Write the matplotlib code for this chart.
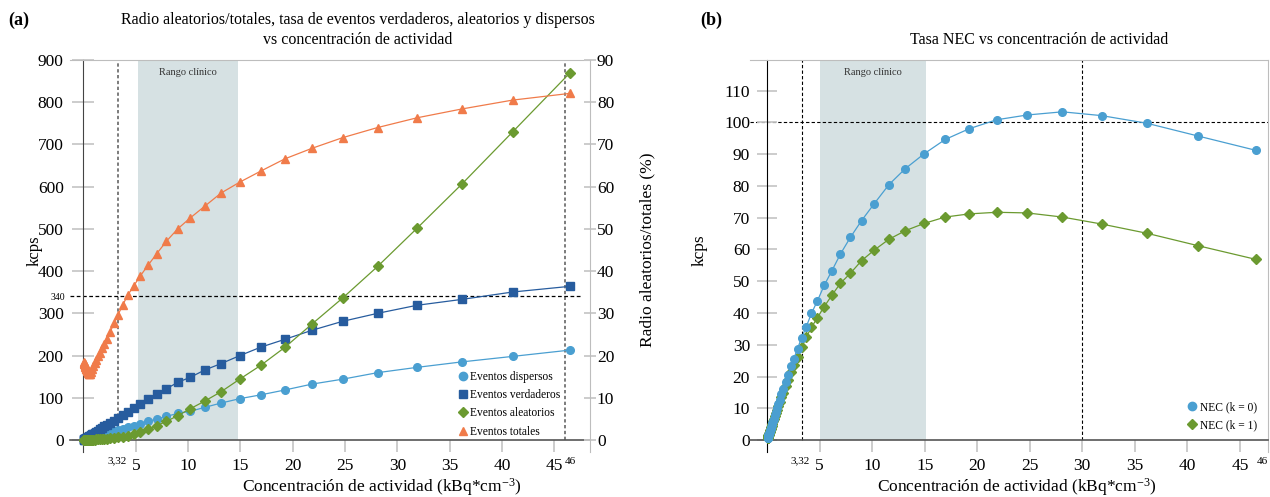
import matplotlib.pyplot as plt
from matplotlib.lines import Line2D

plt.rcParams['font.family'] = ['Liberation Serif', 'DejaVu Serif']
plt.rcParams['mathtext.fontset'] = 'custom'
plt.rcParams['mathtext.rm'] = 'Liberation Serif'
plt.rcParams['mathtext.it'] = 'Liberation Serif:italic'

# concentracion de actividad (kBq/cm3), comun a todas las series
conc = [0.06, 0.07, 0.08, 0.09, 0.10, 0.11, 0.125, 0.14, 0.16, 0.18,
        0.21, 0.24, 0.27, 0.30, 0.34, 0.39, 0.44, 0.50, 0.57, 0.64,
        0.73, 0.83, 0.94, 1.07, 1.21, 1.37, 1.55, 1.76, 1.99, 2.26,
        2.56, 2.90, 3.29, 3.73, 4.23, 4.80, 5.44, 6.17, 6.99, 7.93,
        9.00, 10.2, 11.6, 13.15, 14.95, 16.95, 19.25, 21.85, 24.75, 28.1,
        31.85, 36.15, 41.0, 46.5]

# tasas en kcps
verdaderos = [1.0, 1.1, 1.3, 1.5, 1.6, 1.8, 2.0, 2.3, 2.6, 2.9,
              3.4, 3.9, 4.4, 4.9, 5.6, 6.4, 7.2, 8.2, 9.3, 10.5,
              11.9, 13.5, 15.3, 17.4, 19.7, 22.3, 25.2, 28.5, 32.2, 36.5,
              41.0, 46.0, 53.0, 59.5, 66.0, 75.0, 85.0, 97.0, 109.0, 121.5,
              136.5, 148.5, 166.0, 181.0, 200.0, 220.0, 238.5, 260.0, 281.0, 300.0,
              319.0, 333.0, 350.5, 364.0]
dispersos = [0.45, 0.5, 0.6, 0.65, 0.7, 0.8, 0.9, 1.0, 1.15, 1.3,
             1.5, 1.7, 1.9, 2.1, 2.4, 2.8, 3.1, 3.6, 4.0, 4.6,
             5.2, 5.9, 6.7, 7.6, 8.6, 9.7, 11.0, 12.5, 14.1, 16.0,
             18.1, 20.5, 23.3, 26.4, 30.0, 34.0, 38.6, 44.0, 49.7, 56.0,
             63.0, 68.0, 77.4, 87.6, 98.0, 107.0, 118.5, 132.5, 144.0, 159.5,
             172.0, 185.0, 198.0, 213.0]
aleatorios = [0.05, 0.05, 0.05, 0.06, 0.06, 0.07, 0.08, 0.09, 0.1, 0.11,
              0.13, 0.15, 0.17, 0.2, 0.23, 0.27, 0.32, 0.38, 0.45, 0.53,
              0.63, 0.75, 0.9, 1.05, 1.25, 1.5, 1.8, 2.15, 2.6, 3.1,
              3.8, 4.7, 6.0, 7.8, 10.3, 14.0, 19.5, 26.0, 34.0, 44.2,
              57.6, 74.0, 92.4, 114.4, 144.5, 177.0, 219.6, 275.0, 336.0, 411.0,
              501.0, 606.0, 729.5, 870.0]
# radio aleatorios/totales (%)
radio = [18.4, 18.3, 18.2, 18.1, 18.0, 17.9, 17.8, 17.7, 17.5, 17.3,
         17.1, 16.9, 16.7, 16.5, 16.3, 16.1, 15.9, 15.7, 15.6, 15.7,
         16.2, 16.9, 17.6, 18.3, 19.0, 19.8, 20.7, 21.7, 22.8, 24.0,
         25.6, 27.6, 29.6, 31.9, 34.3, 36.5, 38.9, 41.4, 44.1, 47.1,
         50.0, 52.6, 55.4, 58.5, 61.1, 63.7, 66.6, 69.1, 71.6, 74.0,
         76.3, 78.4, 80.5, 82.1]
# NEC (kcps)
nec_k0 = [0.65, 0.75, 0.85, 1.0, 1.1, 1.2, 1.35, 1.5, 1.7, 1.9,
          2.3, 2.6, 2.9, 3.2, 3.6, 4.2, 4.7, 5.3, 6.1, 6.8,
          7.8, 8.8, 10.0, 11.3, 12.8, 14.4, 16.2, 18.3, 20.6, 23.4,
          25.7, 28.8, 32.2, 35.7, 39.9, 43.9, 48.7, 53.3, 58.6, 63.8,
          69.1, 74.4, 80.4, 85.4, 90.1, 94.6, 98.0, 100.8, 102.3, 103.3,
          102.1, 99.7, 95.7, 91.2]
nec_k1 = [0.65, 0.75, 0.85, 0.95, 1.05, 1.15, 1.3, 1.5, 1.7, 1.9,
          2.2, 2.5, 2.8, 3.1, 3.5, 4.1, 4.6, 5.2, 5.9, 6.6,
          7.5, 8.5, 9.6, 10.8, 12.1, 13.5, 15.0, 17.1, 19.0, 21.5,
          23.6, 26.1, 29.2, 32.4, 35.5, 38.6, 42.0, 45.6, 49.4, 52.5,
          56.5, 59.8, 63.2, 65.9, 68.2, 70.2, 71.2, 71.7, 71.5, 70.2,
          68.0, 65.1, 61.2, 56.9]

xticks = [5, 10, 15, 20, 25, 30, 35, 40, 45]
yticks_a = list(range(0, 901, 100))
yticks_a2 = list(range(0, 91, 10))
yticks_b = list(range(0, 111, 10))

conc_ref = 3.32
conc_max = 46
kcps_ref = 340
nec_ref = 100
conc_nec_pico = 30
clinico_a = (5.2, 14.75)
clinico_b = (5.0, 15.1)

c_disp = '#4a9fd1'
c_verd = '#275c9e'
c_alea = '#6b9a30'
c_tot = '#f07b4a'
c_sombra = '#d6e1e3'
c_tick = '#c8c8c8'

W, H = 1270, 497


def estilo(ax, color_eje):
    ax.spines['top'].set_color('#bdbdbd')
    ax.spines['right'].set_color('#bdbdbd')
    ax.spines['left'].set_position(('data', 0))
    ax.spines['left'].set_color(color_eje)
    ax.spines['bottom'].set_position(('data', 0))
    ax.spines['bottom'].set_color('#555555')
    ax.spines['bottom'].set_linewidth(1.2)
    ax.set_xticks(xticks)
    ax.tick_params(axis='x', direction='out', length=8.6, width=1.3, color=c_tick,
                   labelsize=12.5, pad=4)
    ax.tick_params(axis='y', direction='inout', length=15.5, width=1.3, color=c_tick,
                   labelsize=12.5, pad=6.5)


fig = plt.figure(figsize=(W / 100, H / 100), dpi=100)

# ---------- (a) ----------
ax = fig.add_axes([70 / W, 45 / H, 520 / W, 392 / H])
ax.set_xlim(-1.29, 48.4)
ax.set_ylim(-28.4, 900)
estilo(ax, '#444444')
ax.spines['right'].set_visible(False)
ax.set_yticks(yticks_a)

ymin_frac = (0 - ax.get_ylim()[0]) / (ax.get_ylim()[1] - ax.get_ylim()[0])
ax.axvspan(clinico_a[0], clinico_a[1], ymin=ymin_frac, ymax=1, color=c_sombra, lw=0, zorder=0)
ax.text(sum(clinico_a) / 2, 880, 'Rango clínico', fontsize=7.5, ha='center', va='top', color='#333333')
ax.vlines([conc_ref, conc_max], 0, 900, colors='#666666', linestyles=(0, (2, 1.5)), lw=1.2, zorder=1)
ax.axhline(kcps_ref, xmin=0, xmax=0.985, color='black', ls=(0, (3, 2)), lw=0.9, zorder=1)

ax.plot(conc, dispersos, '-o', color=c_disp, ms=5.5, lw=0.9, zorder=3)
ax.plot(conc, verdaderos, '-s', color=c_verd, ms=5.5, lw=0.9, zorder=3)
ax.plot(conc, aleatorios, '-D', color=c_alea, ms=5, lw=0.9, zorder=3)

ax2 = ax.twinx()
ax2.set_ylim(-2.84, 90)
ax2.set_yticks(yticks_a2)
for s in ['left', 'top', 'bottom']:
    ax2.spines[s].set_visible(False)
ax2.spines['right'].set_color('#bdbdbd')
ax2.tick_params(axis='y', direction='inout', length=8, width=1.3, color=c_tick,
                labelsize=12.5, pad=1)
ax2.plot(conc, radio, '-^', color=c_tot, ms=6, lw=0.9, zorder=3)

handles = [Line2D([], [], marker='o', ls='None', color=c_disp, ms=6),
           Line2D([], [], marker='s', ls='None', color=c_verd, ms=6),
           Line2D([], [], marker='D', ls='None', color=c_alea, ms=5),
           Line2D([], [], marker='^', ls='None', color=c_tot, ms=6)]
labels = ['Eventos dispersos', 'Eventos verdaderos', 'Eventos aleatorios', 'Eventos totales']
ax2.legend(handles, labels, loc='upper left', bbox_to_anchor=(0.738, 0.222), frameon=False,
           fontsize=8.3, handlelength=0.6, handletextpad=0.35, labelspacing=0.55, borderpad=0)

fig.text(58 / W, 1 - 297 / H, str(kcps_ref), fontsize=7, ha='center', va='center')
fig.text(117 / W, 1 - 461 / H, '3,32', fontsize=8, ha='center', va='center')
fig.text(570 / W, 1 - 461 / H, str(conc_max), fontsize=8, ha='center', va='center')

fig.text(8 / W, 1 - 20 / H, '(a)', fontsize=13, fontweight='bold', va='center')
fig.text(358 / W, 1 - 20 / H, 'Radio aleatorios/totales, tasa de eventos verdaderos, aleatorios y dispersos',
         fontsize=11.5, ha='center', va='center')
fig.text(358 / W, 1 - 40 / H, 'vs concentración de actividad', fontsize=11.5, ha='center', va='center')
fig.text(35 / W, 1 - 251 / H, 'kcps', fontsize=12, rotation=90, ha='center', va='center')
fig.text(647 / W, 1 - 250 / H, 'Radio aleatorios/totales (%)', fontsize=12.5, rotation=90,
         ha='center', va='center')
fig.text(382 / W, 1 - 487 / H, r'Concentración de actividad (kBq*cm$^{-3}$)', fontsize=12.5,
         ha='center', va='center')

# ---------- (b) ----------
bx = fig.add_axes([750 / W, 45 / H, 518 / W, 392 / H])
bx.set_xlim(-1.62, 47.67)
bx.set_ylim(-3.7, 119.6)
estilo(bx, 'black')
bx.set_yticks(yticks_b)
bx.tick_params(axis='y', length=14.5, pad=5)

ymin_frac = (0 - bx.get_ylim()[0]) / (bx.get_ylim()[1] - bx.get_ylim()[0])
bx.axvspan(clinico_b[0], clinico_b[1], ymin=ymin_frac, ymax=1, color=c_sombra, lw=0, zorder=0)
bx.text(sum(clinico_b) / 2, 117, 'Rango clínico', fontsize=7.5, ha='center', va='top', color='#333333')
bx.vlines([conc_ref, conc_nec_pico], 0, 119.6, colors='black', linestyles=(0, (3, 2)), lw=0.8, zorder=1)
bx.axhline(nec_ref, color='black', ls=(0, (3, 2)), lw=0.8, zorder=1)

bx.plot(conc, nec_k1, '-D', color=c_alea, ms=5, lw=0.9, zorder=3)
bx.plot(conc, nec_k0, '-o', color=c_disp, ms=5.5, lw=0.9, zorder=4)

handles_b = [Line2D([], [], marker='o', ls='None', color=c_disp, ms=6),
             Line2D([], [], marker='D', ls='None', color=c_alea, ms=5)]
bx.legend(handles_b, ['NEC (k = 0)', 'NEC (k = 1)'], loc='upper left', bbox_to_anchor=(0.836, 0.145),
          frameon=False, fontsize=8.3, handlelength=0.6, handletextpad=0.35, labelspacing=0.55,
          borderpad=0)

fig.text(800 / W, 1 - 461 / H, '3,32', fontsize=8, ha='center', va='center')
fig.text(1262 / W, 1 - 461 / H, str(conc_max), fontsize=8, ha='center', va='center')

fig.text(700 / W, 1 - 20 / H, '(b)', fontsize=13, fontweight='bold', va='center')
fig.text(1039 / W, 1 - 40 / H, 'Tasa NEC vs concentración de actividad', fontsize=11.5,
         ha='center', va='center')
fig.text(700 / W, 1 - 250 / H, 'kcps', fontsize=12.5, rotation=90, ha='center', va='center')
fig.text(1017 / W, 1 - 487 / H, r'Concentración de actividad (kBq*cm$^{-3}$)', fontsize=12.5,
         ha='center', va='center')

fig.savefig('out.png', dpi=100)
plt.close(fig)
